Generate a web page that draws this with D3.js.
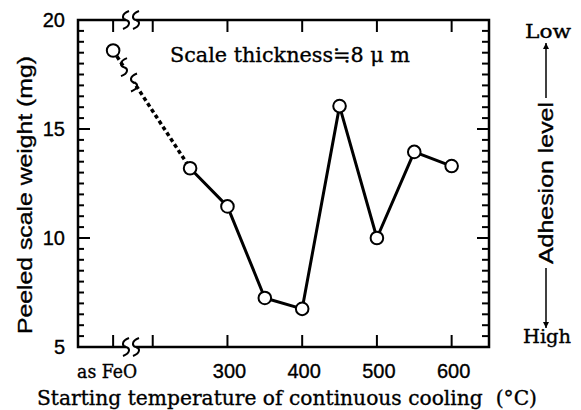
<!DOCTYPE html>
<html><head><meta charset="utf-8">
<script src="https://cdn.jsdelivr.net/npm/d3@7"></script>
<style>body{margin:0;background:#fff} text{stroke:#000;stroke-width:0.35px;fill:#000}</style>
</head><body><svg id="c" width="581" height="410"></svg>
<script>
// ---- data ----
const categories = ["as FeO", 250, 300, 350, 400, 450, 500, 550, 600];
const weights = [18.6, 13.2, 11.45, 7.25, 6.75, 16.05, 10.0, 13.95, 13.3];
const xTickValues = ["as FeO", 200, 300, 400, 500, 600];
const xTickLabels = ["as FeO", "", "300", "400", "500", "600"];
const yMajorTicks = [5, 10, 15, 20];
const yTickLabels = ["5", "10", "15", "20"];
const FEO_AXIS_VALUE = 147; // where the "as FeO" category sits on the broken axis

// ---- layout ----
const svg = d3.select("#c");
const L = 78, R = 489, T = 20, B = 347;
const x = d3.scaleLinear().domain([100, 650]).range([L, R]);
const y = d3.scaleLinear().domain([5, 20]).range([B, T]);
const xv = c => c === "as FeO" ? x(FEO_AXIS_VALUE) : x(c);
const SERIF = "'DejaVu Serif', serif";
const SANS = "'Liberation Sans', Arial, sans-serif";

function squeeze(sel, target) {
  sel.attr("textLength", target).attr("lengthAdjust", "spacingAndGlyphs");
}

// ---- frame ----
svg.append("rect").attr("x", L).attr("y", T).attr("width", R - L).attr("height", B - T)
  .attr("fill", "none").attr("stroke", "#000").attr("stroke-width", 2.5);

const yMinor = d3.range(5, 20.01, 0.5);
const tk = svg.append("g").attr("stroke", "#000").attr("stroke-width", 2);
yMinor.forEach(v => {
  const major = yMajorTicks.includes(v);
  tk.append("line").attr("x1", L).attr("x2", L + (major ? 12 : 6)).attr("y1", y(v)).attr("y2", y(v));
  tk.append("line").attr("x1", R).attr("x2", R - (major ? 12 : 7)).attr("y1", y(v)).attr("y2", y(v));
});
xTickValues.forEach(c => {
  tk.append("line").attr("x1", xv(c)).attr("x2", xv(c)).attr("y1", B).attr("y2", B - 12);
  tk.append("line").attr("x1", xv(c)).attr("x2", xv(c)).attr("y1", T).attr("y2", T + 12);
});

function sMark(g, cx, cy, h = 9) {
  g.append("path")
    .attr("d", `M${cx + 3},${cy - h} C${cx - 5},${cy - h * 0.66} ${cx - 4},${cy - 1} ${cx},${cy} C${cx + 4},${cy + 1} ${cx + 5},${cy + h * 0.66} ${cx - 3},${cy + h}`)
    .attr("fill", "none").attr("stroke", "#000").attr("stroke-width", 2);
}
const brk = svg.append("g");
const bx1 = 126, bx2 = 136;
[T, B].forEach(yy => {
  brk.append("rect").attr("x", bx1).attr("y", yy - 3).attr("width", bx2 - bx1).attr("height", 6).attr("fill", "#fff");
  sMark(brk, bx1, yy);
  sMark(brk, bx2, yy);
});

// ---- lines ----
const pts = categories.map((c, i) => [xv(c), y(weights[i])]);
svg.append("line").attr("x1", pts[0][0]).attr("y1", pts[0][1]).attr("x2", pts[1][0]).attr("y2", pts[1][1])
  .attr("stroke", "#000").attr("stroke-width", 3.5).attr("stroke-dasharray", "4,3");
svg.append("path").attr("d", d3.line()(pts.slice(1)))
  .attr("fill", "none").attr("stroke", "#000").attr("stroke-width", 3).attr("stroke-linejoin", "round");

{
  const [x0, y0] = pts[0], [x1, y1] = pts[1];
  const yAt = xx => y0 + (xx - x0) * (y1 - y0) / (x1 - x0);
  const ax = 124, bx = 134;
  svg.append("line").attr("x1", ax).attr("y1", yAt(ax)).attr("x2", bx).attr("y2", yAt(bx))
    .attr("stroke", "#fff").attr("stroke-width", 9);
  sMark(svg, ax, yAt(ax), 9);
  sMark(svg, bx, yAt(bx), 9);
}

svg.append("g").selectAll("circle").data(pts).join("circle")
  .attr("cx", d => d[0]).attr("cy", d => d[1]).attr("r", 6.3)
  .attr("fill", "#fff").attr("stroke", "#000").attr("stroke-width", 2);

// ---- tick labels ----
yMajorTicks.forEach((v, i) => {
  svg.append("text").attr("x", 65).attr("y", y(v)).attr("dy", "0.36em")
    .attr("text-anchor", "end").attr("font-family", SANS).attr("font-size", 20).text(yTickLabels[i]);
});
xTickValues.forEach((c, i) => {
  if (!xTickLabels[i]) return;
  const isFeO = c === "as FeO";
  const t = svg.append("text").attr("x", isFeO ? xv(c) - 6 : xv(c) + 2).attr("y", 378)
    .attr("text-anchor", "middle").attr("font-size", isFeO ? 18 : 20)
    .attr("font-family", isFeO ? SERIF : SANS).text(xTickLabels[i]);
  if (isFeO) squeeze(t, 60);
});

// ---- titles ----
const xt = svg.append("text").attr("x", 287).attr("y", 405).attr("text-anchor", "middle")
  .attr("font-family", SERIF).attr("font-size", 21).style("white-space", "pre")
  .text("Starting temperature of continuous cooling  (°C)");
squeeze(xt, 500);

const yt = svg.append("text").attr("transform", "translate(32,195) rotate(-90)").attr("text-anchor", "middle")
  .attr("font-family", SANS).attr("font-size", 21).text("Peeled scale weight (mg)");
squeeze(yt, 278);

const st = svg.append("text").attr("x", 290).attr("y", 62).attr("text-anchor", "middle")
  .attr("font-family", SERIF).attr("font-size", 21).style("white-space", "pre").text("Scale thickness\u22528 \u03bc m");
squeeze(st, 240);

const at = svg.append("text").attr("transform", "translate(553,183) rotate(-90)").attr("text-anchor", "middle")
  .attr("font-family", SANS).attr("font-size", 20).text("Adhesion level");
squeeze(at, 162);
const lo = svg.append("text").attr("x", 548).attr("y", 38).attr("text-anchor", "middle")
  .attr("font-family", SERIF).attr("font-size", 18).text("Low");
squeeze(lo, 46);
const hi = svg.append("text").attr("x", 547).attr("y", 343).attr("text-anchor", "middle")
  .attr("font-family", SERIF).attr("font-size", 18).text("High");
squeeze(hi, 48);

const defs = svg.append("defs");
defs.append("marker").attr("id", "ah").attr("viewBox", "0 0 10 10").attr("refX", 10).attr("refY", 5)
  .attr("markerWidth", 4).attr("markerHeight", 4).attr("orient", "auto-start-reverse")
  .append("path").attr("d", "M0,0 L10,5 L0,10 Z").attr("fill", "#000");
svg.append("line").attr("x1", 546).attr("y1", 98).attr("x2", 546).attr("y2", 43)
  .attr("stroke", "#000").attr("stroke-width", 1.5).attr("marker-end", "url(#ah)");
svg.append("line").attr("x1", 546).attr("y1", 268).attr("x2", 546).attr("y2", 328)
  .attr("stroke", "#000").attr("stroke-width", 1.5).attr("marker-end", "url(#ah)");
</script></body></html>
